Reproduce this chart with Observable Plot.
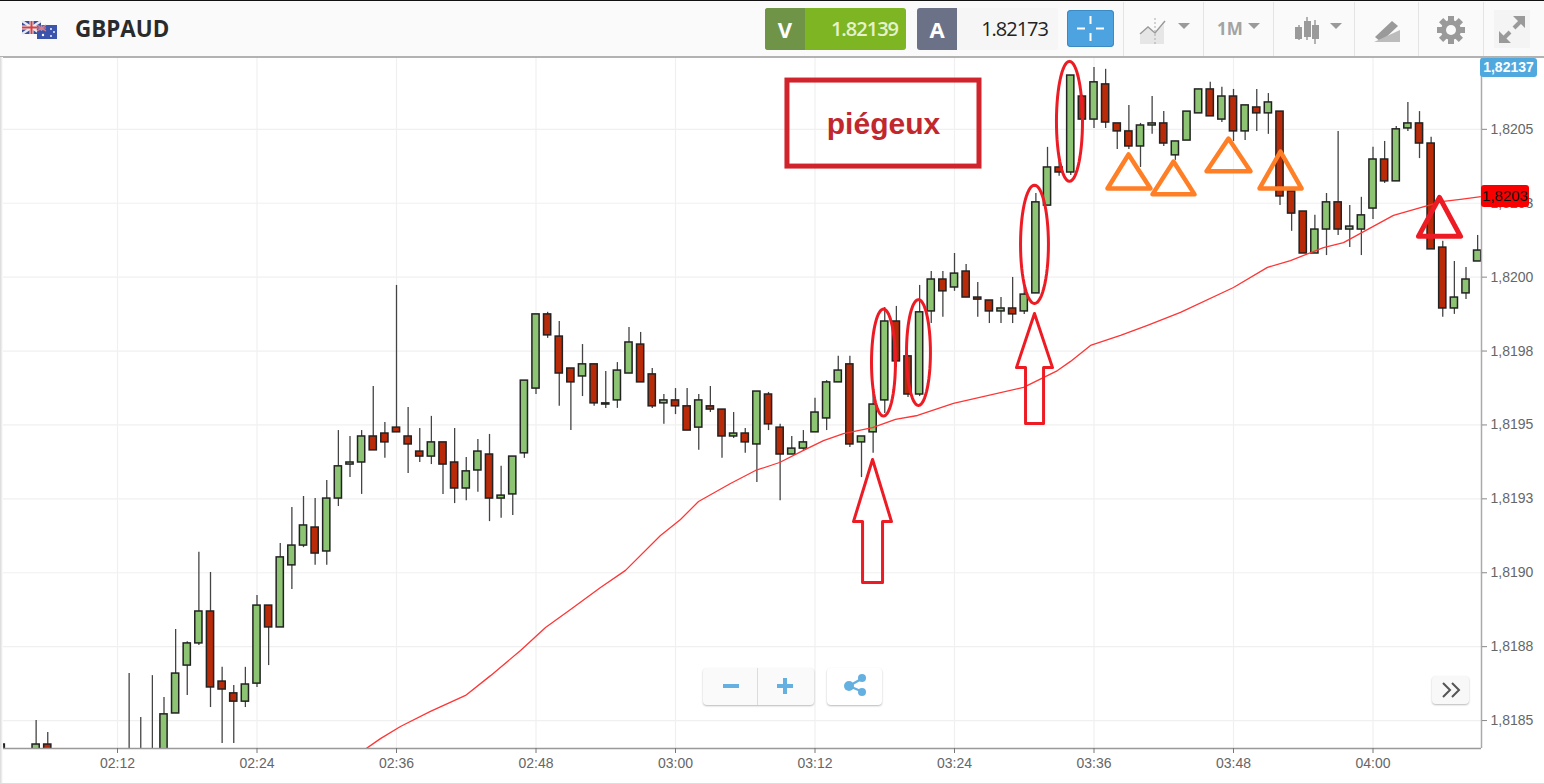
<!DOCTYPE html>
<html lang="fr">
<head>
<meta charset="utf-8">
<title>GBPAUD</title>
<script src="https://cdn.jsdelivr.net/npm/d3@7"></script>
<script src="https://cdn.jsdelivr.net/npm/@observablehq/plot@0.6"></script>
<style>
html,body{margin:0;padding:0;background:#fff;overflow:hidden;width:1544px;height:784px;font-family:"Liberation Sans",Arial,sans-serif}
#page{position:relative;width:1544px;height:784px;overflow:hidden}
#bar{position:absolute;left:0;top:0;width:1544px;height:56px;background:#fafafa;border-top:1px solid #111;box-sizing:border-box}
#barline{position:absolute;left:0;top:56px;width:1544px;height:2px;background:#b2b2b2}
#chart{position:absolute;left:0;top:57px}
.abs{position:absolute}
.div{position:absolute;top:2px;width:1px;height:54px;background:#e4e4e4}
.btn{position:absolute;background:#fafafa;border-radius:4px;box-shadow:0 1px 2px rgba(0,0,0,.28);color:#64b0e0}
</style>
</head>
<body>
<div id="page">
  <div id="chart"></div>
  <div id="bar"></div>
  <div id="barline"></div>
  <div class="abs" style="left:0;top:57px;width:3px;height:727px;background:linear-gradient(90deg,#d8d8d8,#fff)"></div>
  <div class="abs" style="left:0;top:783px;width:1544px;height:1px;background:#ddd"></div>

  <svg class="abs" style="left:20px;top:19px" width="40" height="22" viewBox="0 0 40 22">
    <rect x="2" y="2" width="19" height="13" fill="#3a4f9b"/>
    <path d="M2 2L21 15M21 2L2 15" stroke="#e9e9f2" stroke-width="2.4"/>
    <path d="M11.5 2V15M2 8.5H21" stroke="#e9e9f2" stroke-width="4"/>
    <path d="M11.5 2V15M2 8.5H21" stroke="#d9413f" stroke-width="2"/>
    <rect x="17" y="6" width="20" height="14" fill="#3b55ad"/>
    <path d="M17 6h9v6h-9z" fill="#5561a8"/>
    <path d="M17 6L26 12M26 6L17 12M21.5 6V12M17 9H26" stroke="#e07a86" stroke-width="1.1"/>
    <circle cx="31" cy="10" r=".9" fill="#fff"/><circle cx="34" cy="13" r=".9" fill="#fff"/><circle cx="31" cy="17" r=".9" fill="#fff"/><circle cx="23" cy="16" r="1.2" fill="#fff"/>
  </svg>
  <div class="abs" style="left:75px;top:14px;font:700 22.4px 'Open Sans';color:#2b2b2b;line-height:30px">GBPAUD</div>

  <div class="abs" style="left:765px;top:8px;width:141px;height:42px;background:#7db523;border-radius:3px;overflow:hidden">
    <div class="abs" style="left:0;top:0;width:40px;height:42px;background:#6f9447;color:#fff;font:700 22px/42px 'Open Sans';text-align:center">V</div>
    <div class="abs" style="left:40px;width:93px;top:0;text-align:right;color:#e6f2cc;font:600 20px/42px 'Open Sans';letter-spacing:-1px">1.82139</div>
  </div>
  <div class="abs" style="left:917px;top:8px;width:141px;height:42px;background:#f6f6f6;border-radius:3px;overflow:hidden">
    <div class="abs" style="left:0;top:0;width:40px;height:42px;background:#6b7288;color:#fff;font:700 22px/42px 'Open Sans';text-align:center">A</div>
    <div class="abs" style="left:40px;width:91px;top:0;text-align:right;color:#222;font:400 20px/42px 'Open Sans';letter-spacing:-1px">1.82173</div>
  </div>
  <div class="abs" style="left:1067px;top:10px;width:47px;height:37px;background:#4da3e0;border-radius:4px;box-shadow:0 0 0 1px #3b8ac4 inset"></div>
  <svg class="abs" style="left:1067px;top:10px" width="47" height="37"><path d="M23.5 6V14M23.5 23V31M10 18.5H18M29 18.5H37" stroke="#fff" stroke-width="2"/></svg>

  <div class="div" style="left:1123px"></div><div class="div" style="left:1203px"></div><div class="div" style="left:1273px"></div><div class="div" style="left:1354px"></div><div class="div" style="left:1418px"></div><div class="div" style="left:1483px"></div>

  <svg class="abs" style="left:1124px;top:1px" width="420" height="56" viewBox="1124 1 420 56">
    <path d="M1140 44V35L1148 28L1155 34L1164 24V44Z" fill="#e6e6e6"/>
    <path d="M1140 34L1148 27L1155 33L1165 21" fill="none" stroke="#9a9a9a" stroke-width="1.5"/>
    <path d="M1155 18V44" stroke="#aaa" stroke-dasharray="2 2" stroke-width="1"/>
    <path d="M1178 23H1190L1184 29Z" fill="#9a9a9a"/>
    <text x="1217" y="35" font-family="Open Sans" font-weight="700" font-size="17" fill="#a3a3a3">1M</text>
    <path d="M1248 23H1260L1254 29Z" fill="#9a9a9a"/>
    <path d="M1299 25V40M1307 17V40M1315 20V44" stroke="#9a9a9a" stroke-width="1.5"/>
    <rect x="1295" y="27" width="7" height="12" fill="#9a9a9a"/><rect x="1304" y="21" width="7" height="16" fill="#9a9a9a"/><rect x="1312" y="25" width="7" height="14" fill="#9a9a9a"/>
    <path d="M1330 23H1342L1336 29Z" fill="#9a9a9a"/>
    <path d="M1375 37L1392 21L1398 26L1381 42Z" fill="#9a9a9a"/>
    <path d="M1374 42H1400V30Z" fill="#bcbcbc"/>
    <g transform="translate(1451 30)" fill="#9a9a9a"><circle r="10"/><g id="t"><rect x="-3" y="-14" width="6" height="28"/><rect x="-3" y="-14" width="6" height="28" transform="rotate(45)"/><rect x="-3" y="-14" width="6" height="28" transform="rotate(90)"/><rect x="-3" y="-14" width="6" height="28" transform="rotate(135)"/></g><circle r="5" fill="#fafafa"/></g>
    <rect x="1494" y="10" width="36" height="38" fill="#f4f4f4"/>
    <path d="M1501 41L1510 32M1514 28L1523 19" stroke="#9a9a9a" stroke-width="4"/>
    <path d="M1499 31V43H1511ZM1525 28V16H1513Z" fill="#9a9a9a"/>
  </svg>

  <div class="abs" style="left:1480px;top:58px;width:57px;height:19px;background:#4fa9de;border-radius:3px;color:#fff;font:700 14px/19px 'Liberation Sans';text-align:center">1,82137</div>
  <div class="abs" style="left:1481px;top:185px;width:48px;height:22px;background:#f90000;border-radius:3px;color:#111;font:400 15px/22px 'Liberation Sans';text-align:center">1,8203</div>

  <div class="btn" style="left:703px;top:668px;width:111px;height:37px"></div>
  <div class="abs" style="left:757px;top:668px;width:1px;height:37px;background:#ddd"></div>
  <svg class="abs" style="left:703px;top:668px" width="111" height="37"><path d="M20 18H36M74 18H90M82 10V26" stroke="#64b0e0" stroke-width="4"/></svg>
  <div class="btn" style="left:827px;top:668px;width:55px;height:37px;background:#fff"></div>
  <svg class="abs" style="left:827px;top:668px" width="55" height="37"><path d="M22 18L36 10M22 18L36 24" stroke="#64b0e0" stroke-width="2.4"/><circle cx="22" cy="18" r="5" fill="#64b0e0"/><circle cx="35" cy="10" r="4" fill="#64b0e0"/><circle cx="35" cy="24" r="4" fill="#64b0e0"/></svg>
  <div class="btn" style="left:1432px;top:676px;width:37px;height:28px;background:#f8f8f8"></div>
  <svg class="abs" style="left:1432px;top:676px" width="37" height="28"><path d="M11 7L18 14L11 21M20 7L27 14L20 21" fill="none" stroke="#555" stroke-width="2"/></svg>
</div>
<script>
// Candles: minutes after 02:12, prices in millionths
const minutes = [-10,-7,-6,...d3.range(1,118)];
const opens = [1818419,1818382,1818419,1818340,1818340,1818340,
1818365,1818524,1818686,1818761,1818869,1818632,1818592,1818564,1818625,1818889,
1818815,1819025,1819092,1819153,1819072,1819251,1819366,1819373,1819461,1819471,
1819491,1819461,1819410,1819393,1819441,1819373,1819285,1819346,1819400,1819251,
1819265,1819404,1819623,1819874,1819799,1819691,1819664,1819705,1819569,1819583,
1819674,1819772,1819671,1819573,1819583,1819563,1819491,1819563,1819552,1819461,
1819471,1819434,1819603,1819491,1819400,1819420,1819475,1819522,1819644,1819705,
1819441,1819475,1819583,1819850,1819732,1819603,1819884,1819992,1819965,1820019,
1819931,1819921,1819884,1819894,1819884,1819945,1820242,1820371,1820354,1820611,
1820533,1820652,1820520,1820493,1820442,1820513,1820520,1820412,1820462,1820554,
1820635,1820533,1820611,1820493,1820574,1820554,1820560,1820290,1820222,1820080,
1820161,1820253,1820161,1820161,1820232,1820398,1820324,1820503,1820520,1820452,
1820100,1819894,1819945,1820053];
const closes = [1818365,1818419,1818365,1818320,1818320,1818320,
1818521,1818659,1818761,1818869,1818612,1818605,1818564,1818622,1818889,1818815,
1819052,1819092,1819160,1819065,1819251,1819360,1819373,1819461,1819414,1819441,
1819475,1819434,1819393,1819441,1819366,1819285,1819343,1819410,1819251,1819261,
1819393,1819650,1819874,1819803,1819674,1819644,1819705,1819573,1819573,1819684,
1819779,1819644,1819563,1819583,1819563,1819481,1819583,1819552,1819461,1819471,
1819441,1819613,1819502,1819400,1819420,1819441,1819542,1819644,1819684,1819434,
1819461,1819569,1819850,1819715,1819603,1819881,1819992,1819952,1820012,1819931,
1819924,1819884,1819894,1819874,1819941,1820253,1820371,1820354,1820682,1820533,
1820659,1820523,1820493,1820442,1820513,1820520,1820452,1820459,1820560,1820635,
1820544,1820611,1820493,1820581,1820554,1820591,1820273,1820215,1820080,1820161,
1820253,1820161,1820171,1820209,1820398,1820324,1820500,1820520,1820452,1820094,
1819894,1819931,1819992,1820090];
const highs = [1818500,1818500,1818460,1818659,1818510,1818652,
1818578,1818808,1818767,1819069,1819001,1818680,1818619,1818680,1818923,1818889,
1819099,1819221,1819258,1819251,1819312,1819481,1819461,1819481,1819630,1819508,
1819972,1819559,1819488,1819529,1819441,1819488,1819390,1819451,1819468,1819360,
1819393,1819650,1819874,1819881,1819850,1819691,1819772,1819705,1819681,1819711,
1819830,1819813,1819691,1819603,1819623,1819623,1819603,1819630,1819552,1819542,
1819488,1819613,1819610,1819502,1819461,1819481,1819590,1819650,1819732,1819732,
1819461,1819606,1819897,1819901,1819732,1819972,1820019,1820019,1820080,1820043,
1819982,1819921,1819931,1819999,1819982,1820283,1820439,1820405,1820682,1820615,
1820709,1820703,1820520,1820581,1820520,1820611,1820560,1820459,1820560,1820635,
1820659,1820642,1820635,1820581,1820635,1820621,1820560,1820290,1820222,1820209,
1820283,1820493,1820242,1820270,1820439,1820459,1820510,1820591,1820560,1820473,
1820121,1820053,1820033,1820141];
const lows = [1818331,1818331,1818331,1818300,1818300,1818300,
1818331,1818524,1818585,1818754,1818544,1818422,1818422,1818544,1818612,1818686,
1818815,1818943,1819085,1819025,1819025,1819224,1819322,1819265,1819414,1819387,
1819475,1819336,1819373,1819366,1819265,1819234,1819244,1819272,1819173,1819184,
1819194,1819387,1819603,1819793,1819563,1819481,1819596,1819563,1819556,1819556,
1819674,1819644,1819556,1819502,1819535,1819481,1819414,1819542,1819387,1819454,
1819404,1819305,1819481,1819244,1819400,1819414,1819475,1819481,1819644,1819424,
1819322,1819404,1819539,1819694,1819593,1819596,1819843,1819864,1819952,1819931,
1819864,1819843,1819843,1819843,1819874,1819945,1820242,1820341,1820344,1820533,
1820503,1820503,1820432,1820432,1820371,1820483,1820442,1820395,1820462,1820554,
1820544,1820523,1820459,1820462,1820493,1820483,1820242,1820155,1820080,1820080,
1820073,1820141,1820100,1820073,1820195,1820317,1820324,1820493,1820401,1820094,
1819864,1819874,1819924,1820053];

// Moving average
const emaMinutes = [21.42,22.62,24.34,26.92,29.94,32.09,34.67,36.82,38.97,41.55,43.7,46.71,48.43,49.98,52.73,54.88,56.95,59.01,60.73,62.45,64.95,66.92,68.82,71.91,77.94,80.86,81.98,83.7,86.28,88.6,91.44,96,98.92,100.9,103.74,105.46,106.92,109.76,112.69,114.06,115.53,117.42];
const emaPrices = [1818406,1818439,1818480,1818531,1818585,1818652,1818737,1818815,1818876,1818950,1819008,1819126,1819180,1819241,1819302,1819346,1819373,1819414,1819447,1819471,1819491,1819519,1819532,1819573,1819627,1819684,1819715,1819769,1819803,1819837,1819881,1819965,1820033,1820056,1820100,1820117,1820148,1820209,1820242,1820256,1820263,1820273];

// Axis ticks
const xTicks = [0,12,24,36,48,60,72,84,96,108];
const xLabels = ["02:12","02:24","02:36","02:48","03:00","03:12","03:24","03:36","03:48","04:00"];
const yTicks = [1.8185,1.81875,1.819,1.81925,1.8195,1.81975,1.82,1.82025,1.8205];
const yLabels = ["1,8185","1,8188","1,8190","1,8193","1,8195","1,8198","1,8200","1,8203","1,8205"];

// Hand-drawn annotations: [minute, price in millionths]
const orangeTriangles = [
 [[85.16,1820300],[86.97,1820415],[88.86,1820300]],
 [[89.03,1820280],[90.84,1820391],[92.65,1820280]],
 [[93.68,1820358],[95.57,1820469],[97.46,1820358]],
 [[98.24,1820300],[100.04,1820425],[101.85,1820300]]
];
const redTriangle = [[111.91,1820138],[113.72,1820270],[115.53,1820138]];
const upArrows = [
 [[64.95,1819383],[66.58,1819173],[65.81,1819173],[65.81,1818967],[64.09,1818967],[64.09,1819173],[63.31,1819173]],
 [[78.88,1819877],[80.43,1819694],[79.66,1819694],[79.66,1819505],[78.11,1819505],[78.11,1819694],[77.33,1819694]]
];
// centre minute, centre price, radius in minutes, radius in price
const ellipses = [[65.89,1819711,1.03,181],[68.9,1819745,1.03,179],[78.88,1820111,1.2,200],[81.89,1820527,1.12,203]];
const noteBox = {x1:57.63,x2:74.15,y1:1820374,y2:1820665};
const noteText = "piégeux";

const SCALE = 1e-6;
const candles = minutes.map((m,i)=>({m,o:opens[i]*SCALE,h:highs[i]*SCALE,l:lows[i]*SCALE,c:closes[i]*SCALE}));
const ema = emaMinutes.map((m,i)=>({m,p:emaPrices[i]*SCALE}));
const shapeRows = (shapes)=>shapes.flatMap((s,k)=>s.map(([m,p])=>({k,m,p:p*SCALE})));
const ellipseRows = ellipses.flatMap(([cm,cp,rm,rp],k)=>d3.range(0,360,6).map(a=>({
  k,m:cm+rm*Math.cos(a*Math.PI/180),p:(cp+rp*Math.sin(a*Math.PI/180))*SCALE})));
const halfBody = 0.31;

const plot = Plot.plot({
  width:1544,height:727,marginTop:0,marginLeft:0,marginRight:63,marginBottom:36,
  style:{fontFamily:"'Liberation Sans',Arial,sans-serif",fontSize:"14px",background:"transparent",color:"#666"},
  x:{type:"linear",domain:[-10.065,117.333],range:[0,1481],label:null},
  y:{type:"linear",domain:[1.8184055,1.820743],range:[691,0],label:null},
  marks:[
    Plot.gridX(xTicks,{stroke:"#f0f0f0",strokeOpacity:1,strokeWidth:1.2}),
    Plot.gridY(yTicks,{stroke:"#f0f0f0",strokeOpacity:1,strokeWidth:1.2,x1:-10.065,x2:117.333}),
    Plot.ruleX(candles,{x:"m",y1:"l",y2:"h",stroke:"#444",strokeWidth:1.3,clip:true}),
    Plot.rect(candles,{x1:d=>d.m-halfBody,x2:d=>d.m+halfBody,y1:"o",y2:"c",
      fill:d=>d.c>=d.o?"#8cc474":"#b92a08",stroke:"#222",strokeWidth:1.5,clip:true}),
    Plot.line(ema,{x:"m",y:"p",stroke:"#ff3434",strokeWidth:1.3,curve:"linear",clip:true}),
    Plot.ruleY([1.8184055],{stroke:"#999",strokeWidth:1.5}),
    Plot.ruleX([117.333],{stroke:"#aaa",strokeWidth:1.5}),
    Plot.axisX({ticks:xTicks,tickFormat:d=>xLabels[xTicks.indexOf(d)],tickSize:5,tickPadding:5,stroke:"#777",fill:"#666",fontSize:14,label:null}),
    Plot.axisY({anchor:"right",ticks:yTicks,tickFormat:d=>yLabels[yTicks.indexOf(d)],tickSize:5,tickPadding:4,stroke:"#888",fill:"#666",fontSize:14,label:null}),
    Plot.line(shapeRows(orangeTriangles),{x:"m",y:"p",z:"k",stroke:"#ff7f27",strokeWidth:4.5,curve:"linear-closed"}),
    Plot.line(shapeRows([redTriangle]),{x:"m",y:"p",z:"k",stroke:"#ed1c24",strokeWidth:5,curve:"linear-closed"}),
    Plot.line(shapeRows(upArrows),{x:"m",y:"p",z:"k",stroke:"#ed1c24",strokeWidth:3,curve:"linear-closed"}),
    Plot.line(ellipseRows,{x:"m",y:"p",z:"k",stroke:"#ed1c24",strokeWidth:3,curve:"linear-closed"}),
    Plot.rect([noteBox],{x1:"x1",x2:"x2",y1:d=>d.y1*SCALE,y2:d=>d.y2*SCALE,fill:"none",stroke:"#d0232b",strokeWidth:5}),
    Plot.text([noteText],{x:(noteBox.x1+noteBox.x2)/2,y:(noteBox.y1+noteBox.y2)/2*SCALE,text:d=>d,fill:"#c1272d",fontSize:30,fontWeight:700,dy:1})
  ]
});
document.getElementById("chart").appendChild(plot);
</script>
</body>
</html>
